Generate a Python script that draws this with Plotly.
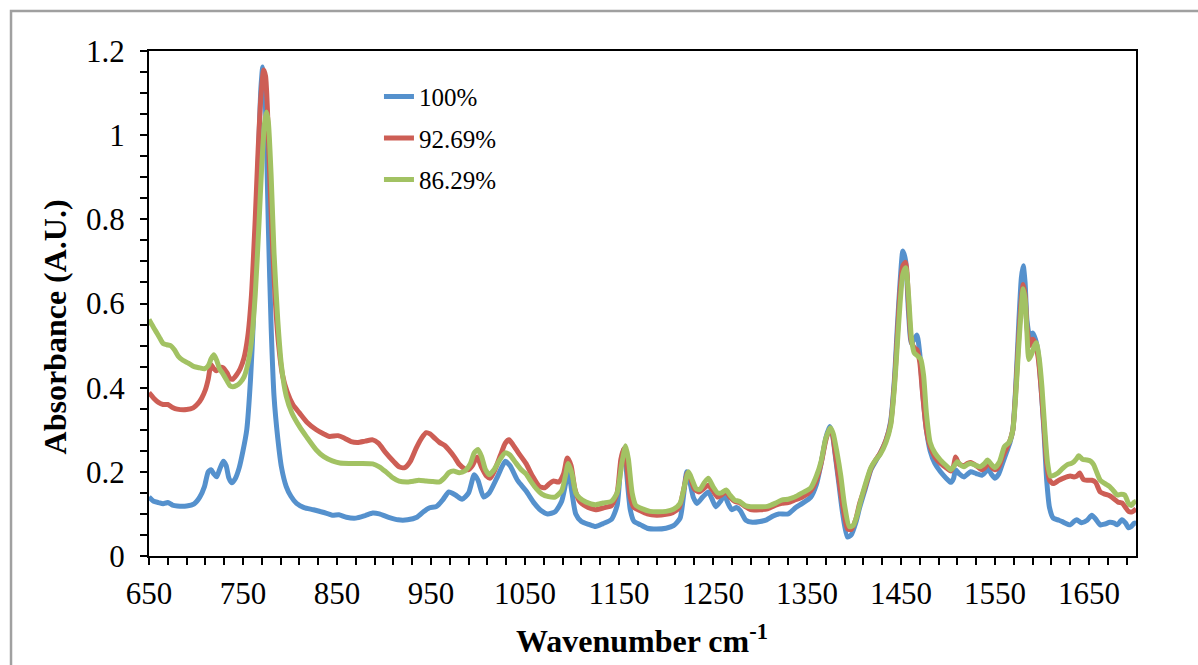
import plotly.graph_objects as go

# FTIR absorbance spectra, wavenumber in cm-1
wn_100 = [650, 655, 660, 665, 670, 675, 680, 690, 698, 704, 709, 713, 716, 719, 722, 725, 729, 732, 735, 738,
          742, 746, 750, 754, 758, 761, 764, 767, 769, 771, 773, 775, 777, 780, 783, 787, 791, 796, 801, 807,
          815, 825, 835, 845, 852, 860, 870, 880, 888, 895, 905, 915, 925, 935, 942, 948, 956, 962, 969, 976,
          983, 990, 996, 1000, 1006, 1012, 1020, 1029, 1034, 1042, 1051, 1060, 1067, 1074, 1082, 1089, 1093, 1096, 1100, 1104,
          1110, 1118, 1125, 1133, 1142, 1148, 1152, 1155, 1158, 1162, 1166, 1173, 1180, 1190, 1200, 1208, 1215, 1219, 1222, 1225,
          1229, 1233, 1239, 1245, 1249, 1253, 1258, 1262, 1266, 1270, 1275, 1279, 1285, 1292, 1300, 1307, 1314, 1320, 1330, 1338,
          1345, 1354, 1360, 1365, 1370, 1374, 1377, 1380, 1384, 1388, 1393, 1397, 1402, 1406, 1412, 1418, 1423, 1428, 1434, 1439,
          1443, 1446, 1449, 1452, 1455, 1458, 1461, 1464, 1467, 1470, 1473, 1477, 1481, 1486, 1492, 1498, 1503, 1506, 1508, 1512,
          1517, 1521, 1524, 1530, 1536, 1540, 1542, 1546, 1550, 1554, 1558, 1562, 1566, 1569, 1572, 1575, 1578, 1580, 1582, 1584,
          1587, 1590, 1593, 1596, 1599, 1602, 1605, 1608, 1612, 1618, 1623, 1630, 1634, 1637, 1642, 1648, 1653, 1657, 1662, 1667,
          1672, 1677, 1680, 1685, 1689, 1692, 1695, 1698, 1700]
abs_100 = [0.140, 0.130, 0.127, 0.124, 0.127, 0.121, 0.119, 0.119, 0.124, 0.140, 0.165, 0.200, 0.205, 0.195, 0.188, 0.205, 0.225, 0.215, 0.185, 0.174,
           0.185, 0.210, 0.250, 0.300, 0.420, 0.560, 0.780, 0.990, 1.110, 1.162, 1.120, 0.980, 0.780, 0.540, 0.380, 0.280, 0.210, 0.165, 0.142, 0.125,
           0.115, 0.110, 0.104, 0.097, 0.098, 0.092, 0.090, 0.096, 0.102, 0.100, 0.092, 0.086, 0.086, 0.092, 0.105, 0.114, 0.118, 0.132, 0.152, 0.145,
           0.135, 0.150, 0.193, 0.180, 0.140, 0.150, 0.185, 0.225, 0.215, 0.180, 0.155, 0.125, 0.108, 0.100, 0.105, 0.130, 0.170, 0.205, 0.150, 0.100,
           0.082, 0.075, 0.070, 0.077, 0.087, 0.120, 0.220, 0.255, 0.200, 0.110, 0.082, 0.074, 0.066, 0.064, 0.066, 0.072, 0.090, 0.150, 0.200, 0.180,
           0.140, 0.125, 0.140, 0.152, 0.135, 0.117, 0.130, 0.145, 0.125, 0.110, 0.115, 0.108, 0.085, 0.080, 0.082, 0.086, 0.095, 0.100, 0.100, 0.115,
           0.125, 0.140, 0.170, 0.220, 0.280, 0.308, 0.290, 0.240, 0.170, 0.100, 0.045, 0.050, 0.080, 0.115, 0.160, 0.205, 0.225, 0.245, 0.275, 0.320,
           0.420, 0.540, 0.650, 0.725, 0.700, 0.580, 0.505, 0.515, 0.525, 0.480, 0.390, 0.300, 0.250, 0.220, 0.200, 0.185, 0.175, 0.185, 0.205, 0.195,
           0.188, 0.195, 0.200, 0.196, 0.192, 0.200, 0.210, 0.195, 0.185, 0.195, 0.220, 0.245, 0.270, 0.300, 0.400, 0.540, 0.660, 0.690, 0.650, 0.560,
           0.520, 0.530, 0.515, 0.480, 0.400, 0.300, 0.180, 0.115, 0.090, 0.085, 0.080, 0.074, 0.082, 0.086, 0.079, 0.085, 0.097, 0.088, 0.074, 0.076,
           0.080, 0.078, 0.074, 0.086, 0.078, 0.067, 0.070, 0.078, 0.078]

wn_9269 = [650, 655, 660, 665, 670, 675, 680, 690, 697, 702, 706, 710, 713, 716, 719, 722, 726, 729, 733, 736,
           739, 743, 747, 751, 755, 759, 763, 766, 769, 772, 774, 776, 778, 781, 784, 788, 792, 797, 803, 810,
           818, 828, 836, 842, 851, 858, 865, 872, 880, 888, 894, 902, 910, 916, 922, 928, 934, 940, 945, 949,
           954, 959, 965, 969, 975, 980, 986, 990, 994, 999, 1004, 1009, 1013, 1018, 1024, 1029, 1033, 1037, 1043, 1051,
           1058, 1065, 1071, 1076, 1080, 1086, 1091, 1095, 1099, 1103, 1108, 1115, 1120, 1125, 1133, 1142, 1148, 1152, 1155, 1158,
           1162, 1166, 1172, 1180, 1190, 1200, 1207, 1214, 1219, 1223, 1226, 1230, 1235, 1240, 1245, 1250, 1255, 1259, 1264, 1268,
           1273, 1278, 1284, 1290, 1300, 1308, 1316, 1323, 1330, 1337, 1345, 1354, 1360, 1365, 1370, 1374, 1377, 1380, 1384, 1388,
           1393, 1397, 1402, 1406, 1412, 1418, 1423, 1428, 1434, 1439, 1443, 1446, 1449, 1452, 1455, 1458, 1461, 1464, 1467, 1470,
           1473, 1477, 1481, 1486, 1492, 1498, 1503, 1506, 1508, 1512, 1517, 1521, 1524, 1530, 1536, 1540, 1542, 1546, 1550, 1554,
           1558, 1562, 1566, 1569, 1572, 1575, 1578, 1580, 1582, 1584, 1587, 1590, 1593, 1596, 1599, 1602, 1605, 1608, 1612, 1618,
           1623, 1630, 1634, 1637, 1640, 1644, 1648, 1653, 1657, 1662, 1667, 1672, 1677, 1681, 1685, 1689, 1692, 1696, 1700]
abs_9269 = [0.388, 0.375, 0.365, 0.360, 0.360, 0.353, 0.349, 0.348, 0.352, 0.362, 0.375, 0.395, 0.420, 0.455, 0.445, 0.440, 0.448, 0.447, 0.435, 0.422,
            0.420, 0.430, 0.445, 0.470, 0.520, 0.620, 0.800, 0.960, 1.090, 1.155, 1.140, 1.060, 0.930, 0.760, 0.620, 0.500, 0.430, 0.390, 0.360, 0.340,
            0.318, 0.300, 0.290, 0.284, 0.286, 0.280, 0.272, 0.270, 0.273, 0.276, 0.268, 0.245, 0.225, 0.212, 0.210, 0.225, 0.255, 0.280, 0.293, 0.290,
            0.280, 0.270, 0.262, 0.252, 0.235, 0.218, 0.207, 0.205, 0.215, 0.235, 0.210, 0.190, 0.185, 0.205, 0.240, 0.268, 0.276, 0.265, 0.245, 0.220,
            0.190, 0.166, 0.162, 0.172, 0.178, 0.176, 0.195, 0.233, 0.215, 0.160, 0.130, 0.118, 0.113, 0.110, 0.114, 0.120, 0.150, 0.230, 0.255, 0.220,
            0.140, 0.115, 0.108, 0.100, 0.097, 0.099, 0.103, 0.115, 0.160, 0.198, 0.185, 0.160, 0.152, 0.160, 0.168, 0.155, 0.140, 0.145, 0.152, 0.140,
            0.130, 0.127, 0.118, 0.110, 0.110, 0.112, 0.120, 0.125, 0.127, 0.133, 0.140, 0.155, 0.180, 0.220, 0.275, 0.300, 0.290, 0.245, 0.180, 0.120,
            0.065, 0.063, 0.088, 0.125, 0.165, 0.208, 0.228, 0.245, 0.275, 0.315, 0.410, 0.520, 0.630, 0.690, 0.698, 0.600, 0.510, 0.495, 0.490, 0.460,
            0.385, 0.300, 0.260, 0.235, 0.220, 0.210, 0.202, 0.215, 0.235, 0.218, 0.215, 0.220, 0.222, 0.215, 0.205, 0.212, 0.225, 0.212, 0.205, 0.212,
            0.235, 0.255, 0.275, 0.300, 0.390, 0.510, 0.610, 0.645, 0.620, 0.545, 0.500, 0.515, 0.505, 0.470, 0.400, 0.310, 0.220, 0.180, 0.172, 0.180,
            0.185, 0.190, 0.188, 0.190, 0.197, 0.182, 0.180, 0.180, 0.175, 0.152, 0.147, 0.143, 0.135, 0.128, 0.126, 0.115, 0.106, 0.105, 0.112]

wn_8629 = [650, 653, 657, 661, 665, 669, 673, 677, 681, 686, 692, 698, 704, 709, 713, 716, 719, 722, 725, 728,
           732, 736, 739, 743, 747, 751, 755, 759, 763, 767, 770, 773, 775, 777, 780, 783, 787, 791, 796, 802,
           810, 818, 828, 836, 845, 853, 863, 875, 888, 895, 902, 910, 916, 925, 932, 937, 945, 952, 959, 964,
           969, 974, 980, 986, 992, 996, 1000, 1004, 1008, 1012, 1017, 1023, 1029, 1034, 1040, 1046, 1051, 1057, 1062, 1068,
           1075, 1082, 1089, 1093, 1096, 1100, 1104, 1108, 1115, 1125, 1133, 1142, 1148, 1153, 1157, 1160, 1164, 1168, 1175, 1183,
           1192, 1200, 1208, 1215, 1220, 1224, 1228, 1232, 1236, 1241, 1245, 1250, 1255, 1259, 1264, 1268, 1273, 1278, 1284, 1290,
           1300, 1308, 1316, 1323, 1330, 1337, 1345, 1354, 1360, 1365, 1370, 1375, 1378, 1382, 1386, 1390, 1395, 1399, 1403, 1407,
           1412, 1418, 1423, 1428, 1434, 1439, 1443, 1446, 1449, 1452, 1455, 1458, 1461, 1464, 1468, 1471, 1474, 1477, 1481, 1486,
           1492, 1498, 1503, 1506, 1510, 1514, 1517, 1521, 1524, 1530, 1534, 1539, 1542, 1546, 1550, 1555, 1560, 1565, 1569, 1572,
           1575, 1578, 1580, 1582, 1584, 1586, 1589, 1592, 1594, 1597, 1600, 1603, 1606, 1609, 1613, 1617, 1622, 1627, 1631, 1634,
           1637, 1639, 1643, 1648, 1652, 1655, 1658, 1662, 1667, 1672, 1676, 1680, 1684, 1688, 1692, 1695, 1698, 1700]
abs_8629 = [0.562, 0.550, 0.535, 0.520, 0.505, 0.502, 0.500, 0.490, 0.475, 0.465, 0.458, 0.450, 0.447, 0.445, 0.452, 0.468, 0.478, 0.465, 0.445, 0.435,
            0.420, 0.405, 0.402, 0.405, 0.412, 0.425, 0.455, 0.510, 0.620, 0.790, 0.930, 1.030, 1.055, 1.030, 0.900, 0.720, 0.560, 0.450, 0.380, 0.340,
            0.308, 0.282, 0.252, 0.236, 0.226, 0.221, 0.220, 0.220, 0.219, 0.212, 0.200, 0.185, 0.178, 0.176, 0.178, 0.180, 0.178, 0.177, 0.176, 0.185,
            0.198, 0.202, 0.198, 0.202, 0.220, 0.245, 0.253, 0.235, 0.205, 0.193, 0.205, 0.228, 0.245, 0.240, 0.222, 0.205, 0.195, 0.175, 0.160, 0.147,
            0.141, 0.140, 0.155, 0.190, 0.220, 0.195, 0.150, 0.138, 0.128, 0.122, 0.126, 0.130, 0.150, 0.220, 0.262, 0.230, 0.150, 0.120, 0.112, 0.106,
            0.105, 0.106, 0.111, 0.125, 0.170, 0.200, 0.180, 0.160, 0.158, 0.175, 0.185, 0.165, 0.150, 0.150, 0.157, 0.145, 0.133, 0.130, 0.120, 0.117,
            0.117, 0.118, 0.125, 0.133, 0.135, 0.140, 0.150, 0.162, 0.190, 0.225, 0.280, 0.305, 0.290, 0.245, 0.190, 0.120, 0.070, 0.072, 0.095, 0.130,
            0.170, 0.210, 0.228, 0.242, 0.270, 0.310, 0.400, 0.500, 0.600, 0.670, 0.685, 0.620, 0.520, 0.483, 0.475, 0.468, 0.430, 0.340, 0.270, 0.245,
            0.228, 0.215, 0.205, 0.212, 0.224, 0.215, 0.212, 0.218, 0.220, 0.215, 0.212, 0.220, 0.228, 0.218, 0.210, 0.225, 0.260, 0.270, 0.300, 0.380,
            0.490, 0.590, 0.635, 0.610, 0.530, 0.467, 0.480, 0.500, 0.507, 0.470, 0.400, 0.300, 0.220, 0.190, 0.192, 0.197, 0.208, 0.217, 0.220, 0.224,
            0.232, 0.238, 0.230, 0.228, 0.225, 0.217, 0.200, 0.180, 0.172, 0.165, 0.155, 0.145, 0.147, 0.145, 0.125, 0.120, 0.128, 0.130]

series = [
    ("100%", wn_100, abs_100, "#5591CD"),
    ("92.69%", wn_9269, abs_9269, "#CD5E55"),
    ("86.29%", wn_8629, abs_8629, "#A2C263"),
]

x_ticks = [650, 750, 850, 950, 1050, 1150, 1250, 1350, 1450, 1550, 1650]
y_ticks = [0, 0.2, 0.4, 0.6, 0.8, 1, 1.2]
y_labels = ["0", "0.2", "0.4", "0.6", "0.8", "1", "1.2"]

SERIF = "Liberation Serif, Times New Roman, serif"

fig = go.Figure()
for i, (name, xs, ys, color) in enumerate(series):
    fig.add_trace(go.Scatter(
        x=xs, y=ys, name=name, mode="lines", legendgroup=f"g{i}",
        line=dict(color=color, width=5, shape="spline", smoothing=0.6),
    ))

axis_common = dict(
    showline=True, linecolor="black", linewidth=2, mirror=True,
    showgrid=False, zeroline=False, ticks="outside", ticklen=7, tickwidth=2,
    tickcolor="black", tickfont=dict(family=SERIF, size=31, color="black"),
)

fig.update_xaxes(
    range=[650, 1700], tickvals=x_ticks, ticktext=[str(v) for v in x_ticks],
    minor=dict(dtick=20, tick0=650, ticks="outside", ticklen=7, tickwidth=2, tickcolor="black"),
    ticklabelstandoff=2, **axis_common,
)
fig.update_yaxes(
    range=[0, 1.2], tickvals=y_ticks, ticktext=y_labels,
    minor=dict(dtick=0.05, tick0=0, ticks="outside", ticklen=7, tickwidth=2, tickcolor="black"),
    ticklabelstandoff=9, **axis_common,
)

fig.update_layout(
    width=1198, height=665,
    margin=dict(l=149, r=62, t=51, b=109),
    paper_bgcolor="white", plot_bgcolor="white",
    showlegend=True,
    legend=dict(
        x=0.233, y=0.955, xanchor="left", yanchor="top",
        font=dict(family=SERIF, size=25, color="black"),
        bgcolor="rgba(0,0,0,0)", tracegroupgap=6, traceorder="grouped",
    ),
    annotations=[
        dict(text="<b>Absorbance (A.U.)</b>", xref="paper", yref="paper",
             x=-0.095, y=0.453, xanchor="center", yanchor="middle",
             textangle=-90, showarrow=False,
             font=dict(family=SERIF, size=32, color="black")),
        dict(text="<b>Wavenumber cm<sup>-1</sup></b>", xref="paper", yref="paper",
             x=0.499, y=-0.165, xanchor="center", yanchor="middle", showarrow=False,
             font=dict(family=SERIF, size=32, color="black")),
    ],
    shapes=[
        dict(type="rect", xref="paper", yref="paper",
             x0=-0.1398, y0=-0.3, x1=1.2, y1=1.0792,
             line=dict(color="#A0A0A0", width=2.5), fillcolor="rgba(0,0,0,0)", layer="below"),
    ],
)

fig.write_html("out.html")
